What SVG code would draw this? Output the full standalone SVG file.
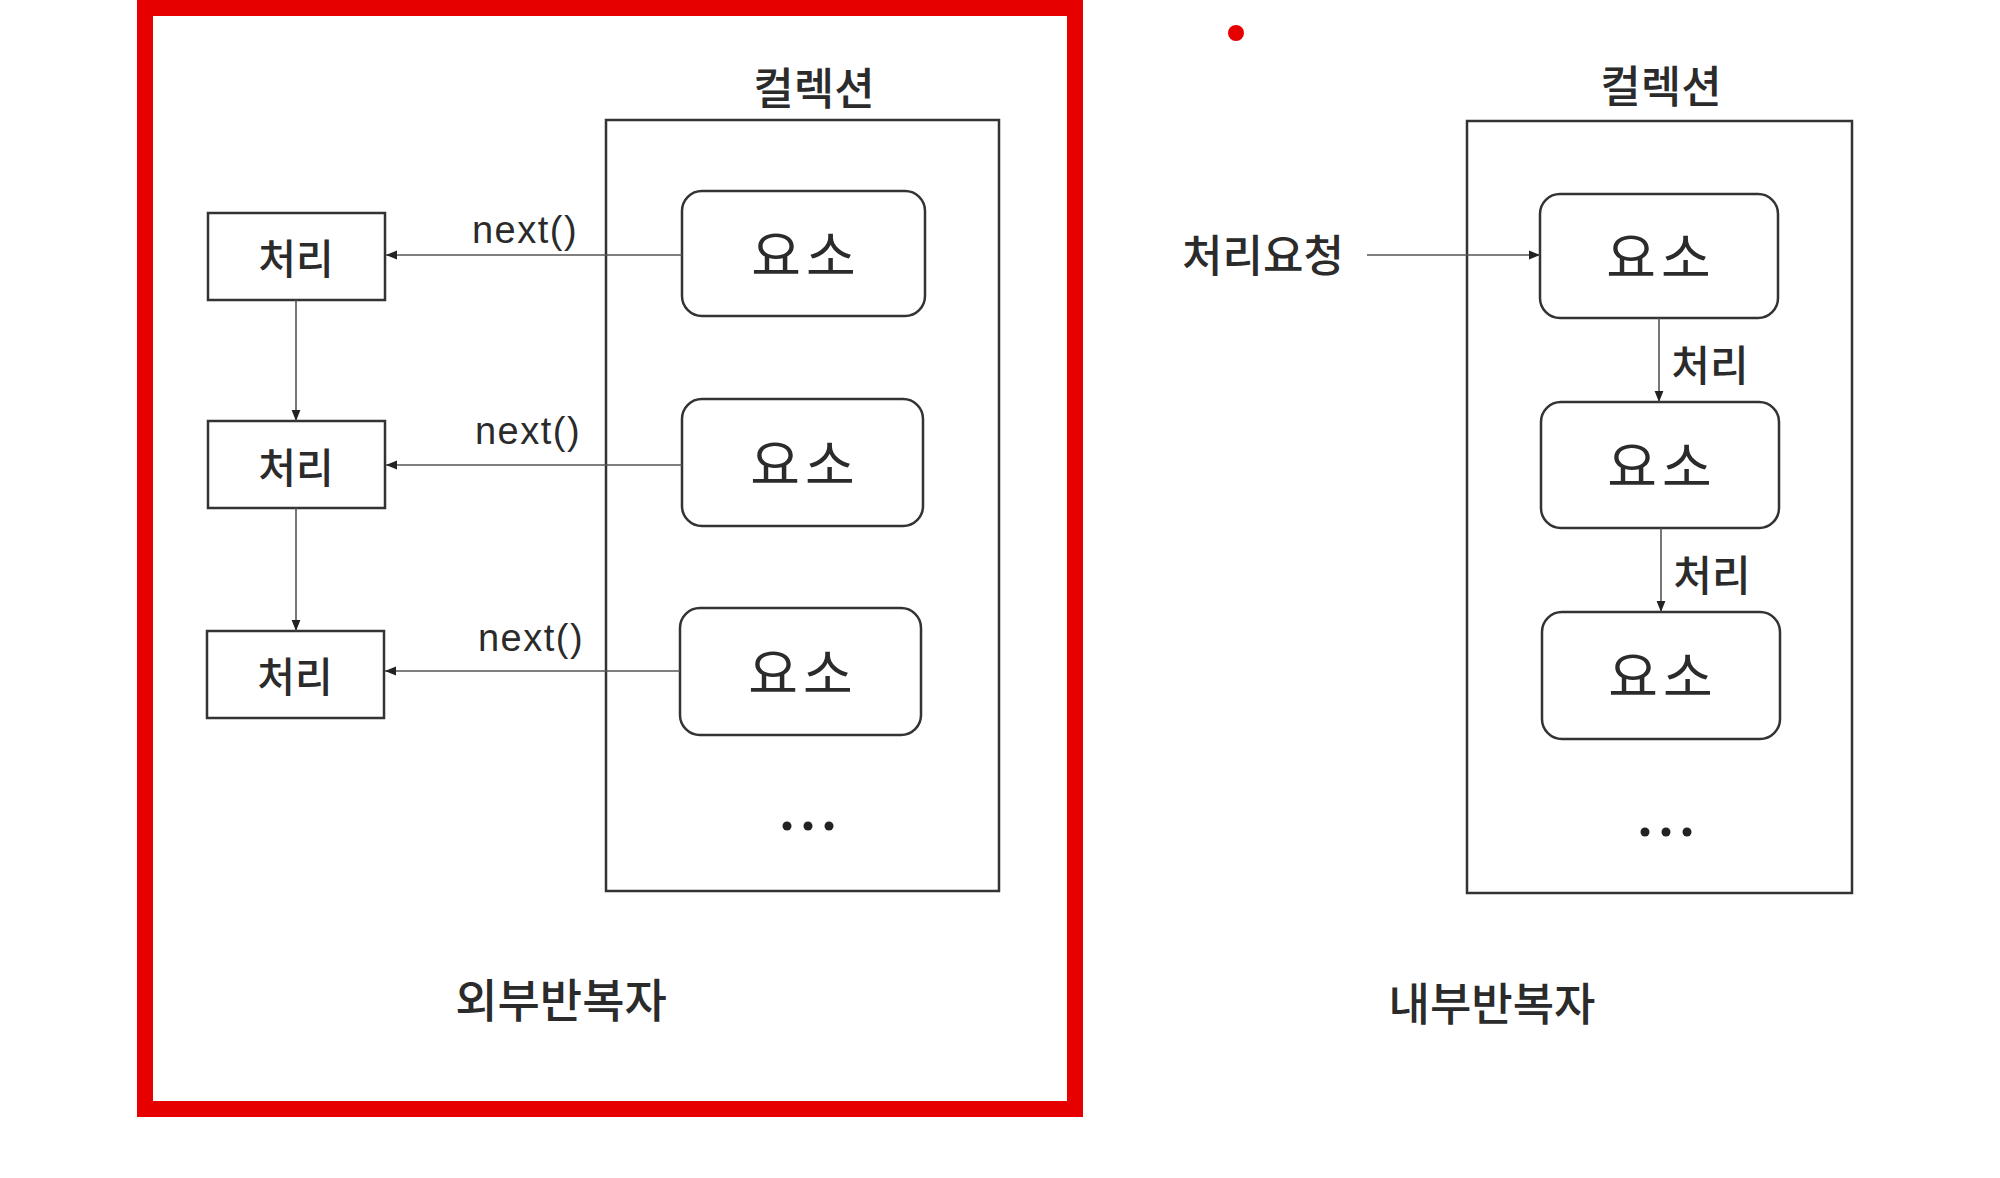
<svg xmlns="http://www.w3.org/2000/svg" width="2000" height="1178" viewBox="0 0 2000 1178">
<style>
.t{font-family:"Noto Sans CJK KR","Noto Sans",sans-serif;fill:#2b2b2b;text-anchor:middle;dominant-baseline:central}
.m{font-family:"Liberation Sans","Noto Sans",sans-serif;fill:#2b2b2b;text-anchor:middle;dominant-baseline:central}
.box{fill:#fff;stroke:#333;stroke-width:2.5}
.coll{fill:none;stroke:#333;stroke-width:2.5}
.conn{fill:none;stroke:#555;stroke-width:1.6}
.dot{fill:#222}
.el{font-size:54px;letter-spacing:5px}
</style>
<defs>
<marker id="ah" viewBox="0 0 10 10" refX="10" refY="5" markerWidth="11" markerHeight="11" markerUnits="userSpaceOnUse" orient="auto">
<path d="M0,1 L10,5 L0,9 Z" fill="#222"/>
</marker>
</defs>
<rect width="2000" height="1178" fill="#fff"/>
<rect id="frame" x="145" y="8" width="930" height="1101" fill="none" stroke="#e60000" stroke-width="16"/>
<circle id="reddot" cx="1236" cy="33" r="8" fill="#e60000"/>

<g id="left-collection">
<text class="t" x="814" y="86" font-size="44" font-weight="500">컬렉션</text>
<rect class="coll" x="606" y="120" width="393" height="771"/>
</g>
<g id="left-elem1"><rect class="box" x="682" y="191" width="243" height="125" rx="20"/><text class="t el" x="806" y="252">요소</text></g>
<g id="left-elem2"><rect class="box" x="682" y="399" width="241" height="127" rx="20"/><text class="t el" x="805" y="461">요소</text></g>
<g id="left-elem3"><rect class="box" x="680" y="608" width="241" height="127" rx="20"/><text class="t el" x="803" y="670">요소</text></g>
<g id="left-dots"><circle class="dot" cx="787" cy="826" r="4.5"/><circle class="dot" cx="808" cy="826" r="4.5"/><circle class="dot" cx="829" cy="826" r="4.5"/></g>

<g id="proc1"><rect class="box" x="208" y="213" width="177" height="87"/><text class="t" x="296" y="256" font-size="41" font-weight="500">처리</text></g>
<g id="proc2"><rect class="box" x="208" y="421" width="177" height="87"/><text class="t" x="296" y="465" font-size="41" font-weight="500">처리</text></g>
<g id="proc3"><rect class="box" x="207" y="631" width="177" height="87"/><text class="t" x="295" y="674" font-size="41" font-weight="500">처리</text></g>

<g id="left-label"><text class="t" x="561" y="997" font-size="46" font-weight="500">외부반복자</text></g>

<g id="right-collection">
<text class="t" x="1661" y="84" font-size="44" font-weight="500">컬렉션</text>
<rect class="coll" x="1467" y="121" width="385" height="772"/>
</g>
<g id="right-elem1"><rect class="box" x="1540" y="194" width="238" height="124" rx="20"/><text class="t el" x="1661" y="254">요소</text></g>
<g id="right-elem2"><rect class="box" x="1541" y="402" width="238" height="126" rx="20"/><text class="t el" x="1662" y="463">요소</text></g>
<g id="right-elem3"><rect class="box" x="1542" y="612" width="238" height="127" rx="20"/><text class="t el" x="1663" y="673">요소</text></g>
<g id="right-dots"><circle class="dot" cx="1645" cy="832" r="4.5"/><circle class="dot" cx="1666" cy="832" r="4.5"/><circle class="dot" cx="1687" cy="832" r="4.5"/></g>
<g id="request"><text class="t" x="1263" y="253" font-size="44" font-weight="500">처리요청</text></g>
<g id="right-label"><text class="t" x="1492" y="1001" font-size="45" font-weight="500">내부반복자</text></g>

<g id="connectors">
<line class="conn" x1="682" y1="255" x2="386" y2="255" marker-end="url(#ah)"/>
<line class="conn" x1="682" y1="465" x2="386" y2="465" marker-end="url(#ah)"/>
<line class="conn" x1="680" y1="671" x2="385" y2="671" marker-end="url(#ah)"/>
<line class="conn" x1="296" y1="300" x2="296" y2="421" marker-end="url(#ah)"/>
<line class="conn" x1="296" y1="508" x2="296" y2="631" marker-end="url(#ah)"/>
<text class="m" x="525" y="230" font-size="38" letter-spacing="1.5">next()</text>
<text class="m" x="528" y="431" font-size="38" letter-spacing="1.5">next()</text>
<text class="m" x="531" y="638" font-size="38" letter-spacing="1.5">next()</text>
<line class="conn" x1="1367" y1="255" x2="1540" y2="255" marker-end="url(#ah)"/>
<line class="conn" x1="1659" y1="318" x2="1659" y2="402" marker-end="url(#ah)"/>
<line class="conn" x1="1661" y1="528" x2="1661" y2="612" marker-end="url(#ah)"/>
<text class="t" x="1710" y="362" font-size="42" font-weight="500">처리</text>
<text class="t" x="1712" y="572" font-size="42" font-weight="500">처리</text>
</g>
</svg>
